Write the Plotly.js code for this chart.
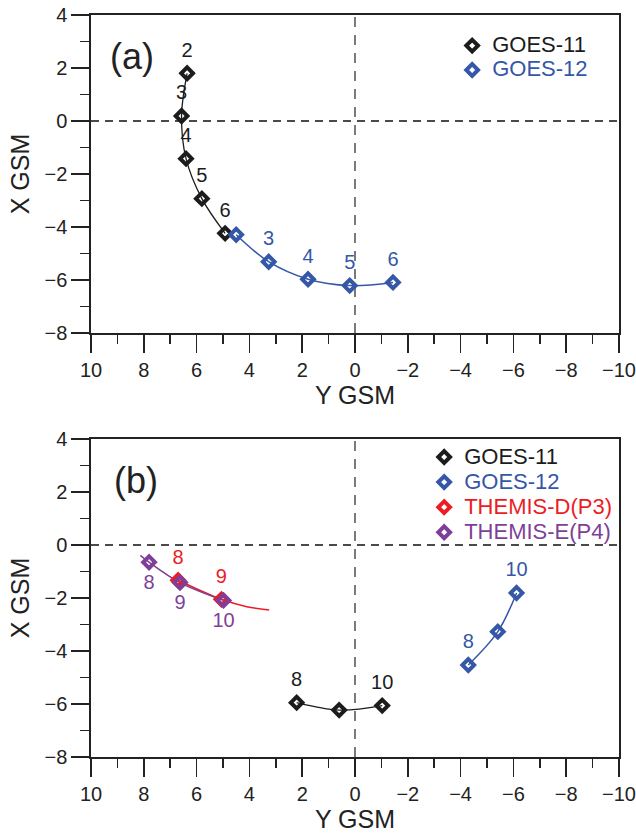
<!DOCTYPE html>
<html>
<head>
<meta charset="utf-8">
<script src="https://cdn.plot.ly/plotly-3.0.1.min.js"></script>
<style>html,body{margin:0;padding:0;background:#fff;}#chart{width:636px;height:835px;}</style>
</head>
<body>
<div id="chart"></div>
<script>
// ---------- Panel (a): hourly positions ----------
const g11aY = [6.36, 6.57, 6.40, 5.80, 4.92];
const g11aX = [1.80, 0.19, -1.42, -2.93, -4.24];
const g11aLabels = ['2', '3', '4', '5', '6'];

const g12aY = [4.50, 3.27, 1.78, 0.20, -1.44];
const g12aX = [-4.29, -5.31, -5.97, -6.21, -6.09];
const g12aLabels = ['', '3', '4', '5', '6'];

// ---------- Panel (b): hourly positions ----------
const g11bY = [2.21, 0.60, -1.03];
const g11bX = [-5.95, -6.23, -6.06];
const g11bLabels = ['8', '', '10'];

const g12bY = [-4.29, -5.41, -6.12];
const g12bX = [-4.53, -3.27, -1.81];
const g12bLabels = ['8', '', '10'];

const thdY = [6.70, 5.06];
const thdX = [-1.33, -2.05];
const thdLabels = ['8', '9'];
const thdTrackY = [6.70, 5.06, 4.10, 3.25];
const thdTrackX = [-1.33, -2.05, -2.33, -2.45];

const theY = [7.80, 6.63, 4.98];
const theX = [-0.65, -1.42, -2.09];
const theLabels = ['8', '9', '10'];
const theTrackY = [8.13, 7.80, 6.63, 4.98];
const theTrackX = [-0.39, -0.65, -1.42, -2.09];

const xTickVals = [10, 8, 6, 4, 2, 0, -2, -4, -6, -8, -10];
const yTickVals = [4, 2, 0, -2, -4, -6, -8];

const C = {black: '#1c1c1c', blue: '#3557a7', red: '#ec1c24', purple: '#7f3f98'};
const FONT = 'Liberation Sans, Arial, Helvetica, sans-serif';

function track(xs, ys, color, xa, ya, w) {
  return {x: xs, y: ys, xaxis: xa, yaxis: ya, mode: 'lines', type: 'scatter',
    line: {color: color, width: w || 1.3, shape: 'spline', smoothing: 1},
    showlegend: false, hoverinfo: 'skip'};
}
function marks(xs, ys, color, name, xa, ya, legend) {
  return {x: xs, y: ys, xaxis: xa, yaxis: ya, mode: 'markers', type: 'scatter',
    name: '<span style="fill:' + color + ';font-size:22px">' + name + '</span>',
    legend: legend,
    marker: {symbol: 'diamond-open', size: 9, color: color, line: {color: color, width: 4}}};
}
function labels(xs, ys, txt, color, pos, xa, ya) {
  return {x: xs, y: ys, xaxis: xa, yaxis: ya, mode: 'markers+text', type: 'scatter',
    text: txt, textposition: pos,
    textfont: {family: FONT, size: 20, color: color},
    marker: {size: 17, color: 'rgba(0,0,0,0)'},
    showlegend: false, hoverinfo: 'skip'};
}

const data = [
  // panel a
  track(g11aY, g11aX, C.black, 'x', 'y', 1.3),
  track(g12aY, g12aX, C.blue, 'x', 'y', 1.5),
  marks(g11aY, g11aX, C.black, 'GOES-11', 'x', 'y', 'legend'),
  marks(g12aY, g12aX, C.blue, 'GOES-12', 'x', 'y', 'legend'),
  labels(g11aY, g11aX, g11aLabels, C.black, 'top center', 'x', 'y'),
  labels(g12aY, g12aX, g12aLabels, C.blue, 'top center', 'x', 'y'),
  // panel b
  track(g11bY, g11bX, C.black, 'x2', 'y2', 1.3),
  track(g12bY, g12bX, C.blue, 'x2', 'y2', 1.5),
  track(thdTrackY, thdTrackX, C.red, 'x2', 'y2', 1.5),
  track(theTrackY, theTrackX, C.purple, 'x2', 'y2', 1.5),
  marks(g11bY, g11bX, C.black, 'GOES-11', 'x2', 'y2', 'legend2'),
  marks(g12bY, g12bX, C.blue, 'GOES-12', 'x2', 'y2', 'legend2'),
  marks(thdY, thdX, C.red, 'THEMIS-D(P3)', 'x2', 'y2', 'legend2'),
  marks(theY, theX, C.purple, 'THEMIS-E(P4)', 'x2', 'y2', 'legend2'),
  labels(g11bY, g11bX, g11bLabels, C.black, 'top center', 'x2', 'y2'),
  labels(g12bY, g12bX, g12bLabels, C.blue, 'top center', 'x2', 'y2'),
  labels(thdY, thdX, thdLabels, C.red, 'top center', 'x2', 'y2'),
  labels(theY, theX, theLabels, C.purple, 'bottom center', 'x2', 'y2')
];

function xax(anchor) {
  return {anchor: anchor, domain: [0, 1], range: [10, -10], tickvals: xTickVals,
    ticks: 'outside', ticklen: 18, tickwidth: 1.5, tickcolor: '#222',
    minor: {dtick: 1, tick0: 0, ticks: 'outside', ticklen: 9, tickwidth: 1.5, tickcolor: '#222'},
    showline: true, linecolor: '#222', linewidth: 1.6, mirror: true,
    showgrid: false, zeroline: false,
    tickfont: {family: FONT, size: 20, color: '#222'},
    title: {text: 'Y GSM', font: {family: FONT, size: 25, color: '#222'}, standoff: 5}};
}
function yax(anchor, domain) {
  return {anchor: anchor, domain: domain, range: [-8, 4], tickvals: yTickVals,
    ticks: 'outside', ticklen: 18, tickwidth: 1.5, tickcolor: '#222',
    minor: {dtick: 1, tick0: 0, ticks: 'outside', ticklen: 9, tickwidth: 1.5, tickcolor: '#222'},
    showline: true, linecolor: '#222', linewidth: 1.6, mirror: true,
    showgrid: false, zeroline: false,
    tickfont: {family: FONT, size: 20, color: '#222'},
    title: {text: 'X GSM', font: {family: FONT, size: 25, color: '#222'}, standoff: 8}};
}

function zeroLines(xa, ya) {
  return [
    {type: 'line', xref: xa, yref: ya, x0: 10, x1: -10, y0: 0, y1: 0,
     line: {color: '#111', width: 1.3, dash: '8px,6px'}, layer: 'below'},
    {type: 'line', xref: xa, yref: ya, x0: 0, x1: 0, y0: -8, y1: 4,
     line: {color: '#7a7a7a', width: 2, dash: '10px,8px'}, layer: 'below'}
  ];
}

const layout = {
  width: 636, height: 835,
  margin: {l: 91, r: 17, t: 15, b: 78},
  paper_bgcolor: '#fff', plot_bgcolor: '#fff',
  font: {family: FONT, size: 20, color: '#222'},
  xaxis: xax('y'), yaxis: yax('x', [0.5714, 1]),
  xaxis2: xax('y2'), yaxis2: yax('x2', [0, 0.4286]),
  shapes: zeroLines('x', 'y').concat(zeroLines('x2', 'y2')),
  legend: {x: 0.684, y: 0.982, xanchor: 'left', yanchor: 'top', bgcolor: 'rgba(0,0,0,0)',
    font: {family: FONT, size: 16.5}, tracegroupgap: 0},
  legend2: {x: 0.631, y: 0.428, xanchor: 'left', yanchor: 'top', bgcolor: 'rgba(0,0,0,0)',
    font: {family: FONT, size: 17}, tracegroupgap: 0},
  annotations: [
    {text: '(a)', xref: 'paper', yref: 'paper', x: 0.0777, y: 0.9447, xanchor: 'center', yanchor: 'middle',
     showarrow: false, font: {family: FONT, size: 36, color: '#222'}},
    {text: '(b)', xref: 'paper', yref: 'paper', x: 0.0852, y: 0.3733, xanchor: 'center', yanchor: 'middle',
     showarrow: false, font: {family: FONT, size: 36, color: '#222'}}
  ],
  showlegend: true
};

Plotly.newPlot('chart', data, layout, {displayModeBar: false, staticPlot: true});
</script>
</body>
</html>
